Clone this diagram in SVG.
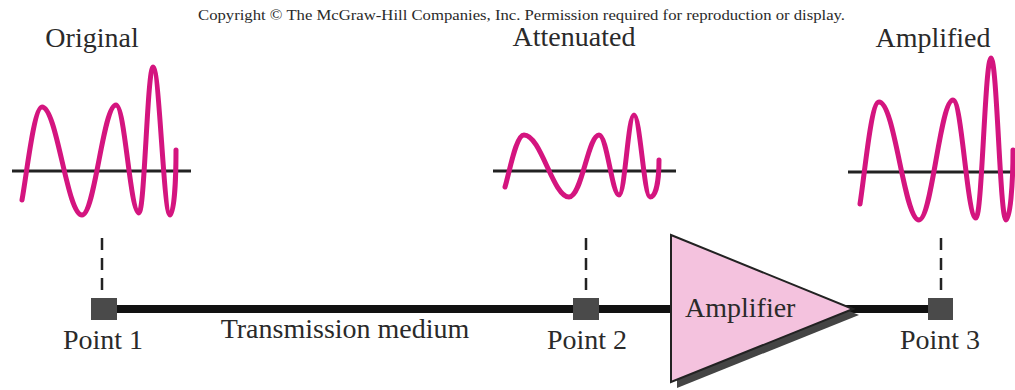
<svg xmlns="http://www.w3.org/2000/svg" width="1015" height="390" viewBox="0 0 1015 390">
<style>
.t{font-family:"Liberation Serif","Times New Roman",serif;fill:#2a2a2a}
.lbl{font-size:28px}
.axis{stroke:#222;stroke-width:3;fill:none}
.wave{stroke:#d4157f;stroke-width:5;fill:none;stroke-linecap:round;stroke-linejoin:round}
.dash{stroke:#222;stroke-width:2.5;stroke-dasharray:12 8;fill:none}
.pt{fill:#4a4a4a}
</style>
<rect width="1015" height="390" fill="#fff"/>
<text class="t" x="198" y="20" font-size="15" textLength="647" lengthAdjust="spacingAndGlyphs">Copyright © The McGraw-Hill Companies, Inc. Permission required for reproduction or display.</text>

<g id="connectors">
<line x1="110" y1="309" x2="935" y2="309" stroke="#111" stroke-width="8"/>
<line class="dash" x1="102" y1="238" x2="102" y2="298"/>
<line class="dash" x1="586" y1="238" x2="586" y2="298"/>
<line class="dash" x1="941" y1="238" x2="941" y2="298"/>
</g>

<g id="original">
<line class="axis" x1="12" y1="171" x2="191" y2="171"/>
<path class="wave" d="M22 200 C27 172,34 107,42 107 C57 107,67 215,82 215 C95 215,103 105,116 105 C125 105,130 213,139 213 C144.5 213,147.5 67,153 67 C159.5 67,163.5 215,170 215 C174 215,176 180,176 150"/>
<text class="t lbl" x="92" y="47" text-anchor="middle">Original</text>
</g>

<g id="attenuated">
<line class="axis" x1="493" y1="171" x2="676" y2="171"/>
<path class="wave" d="M505 187 C510 170,516 135,524 135 C541 135,553 197,569 197 C582 197,588 135,599 135 C607 135,612 195,619 195 C625 195,628 115,634 115 C640 115,644 197,650 197 C656 197,659 180,659 160"/>
<text class="t lbl" x="574" y="46" text-anchor="middle">Attenuated</text>
</g>

<g id="amplified">
<line class="axis" x1="848" y1="172" x2="1015" y2="172"/>
<path class="wave" d="M860 204 C865 172,871 102,879 102 C895 102,904 220,919 220 C932 220,940 100,953 100 C962 100,967 218,976 218 C982 218,985 58,991 58 C997 58,1000 220,1006 220 C1010 220,1013 185,1013 150"/>
<text class="t lbl" x="933" y="47" text-anchor="middle">Amplified</text>
</g>

<g id="point1">
<rect class="pt" x="91" y="298" width="26" height="22"/>
<text class="t lbl" x="103" y="349" text-anchor="middle">Point 1</text>
</g>

<g id="medium">
<text class="t lbl" x="345" y="338" text-anchor="middle">Transmission medium</text>
</g>

<g id="point2">
<rect class="pt" x="573" y="298" width="26" height="22"/>
<text class="t lbl" x="587" y="349" text-anchor="middle">Point 2</text>
</g>

<g id="amplifier">
<polygon points="677,241 859,315 677,388" fill="#444"/>
<polygon points="671,235 853,309 671,382" fill="#f4c2de" stroke="#222" stroke-width="2"/>
<text class="t lbl" x="685" y="317">Amplifier</text>
</g>

<g id="point3">
<rect class="pt" x="928" y="298" width="25" height="22"/>
<text class="t lbl" x="940" y="349" text-anchor="middle">Point 3</text>
</g>
</svg>
